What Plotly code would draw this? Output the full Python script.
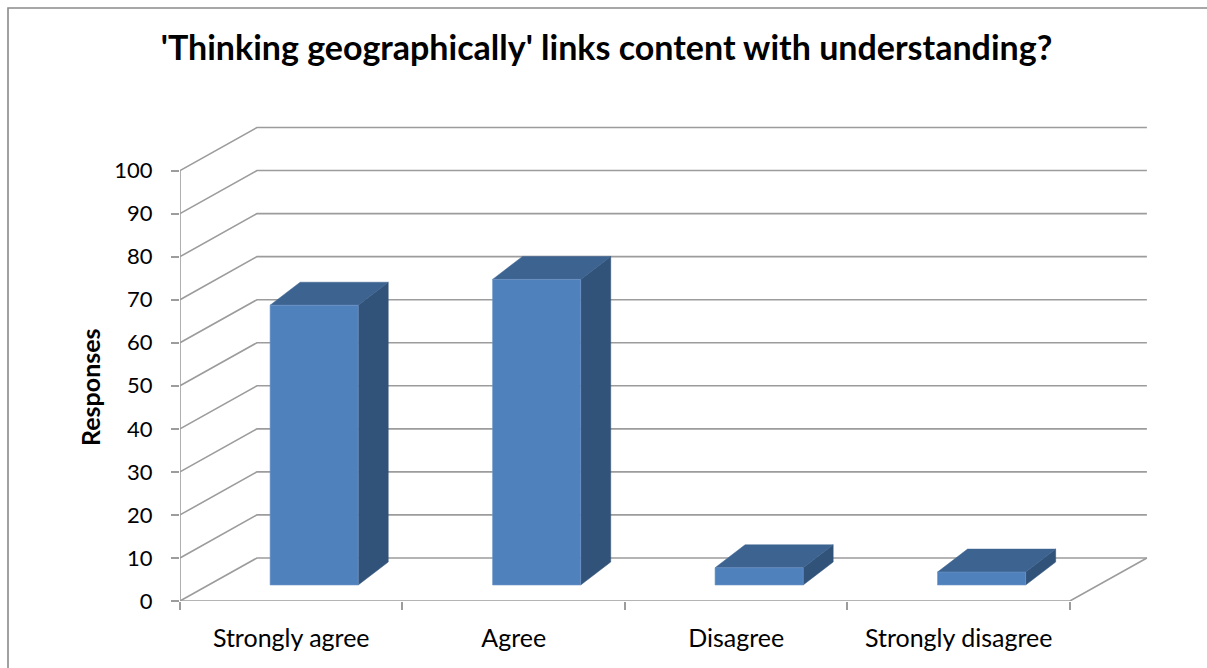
import plotly.graph_objects as go

# ---- data ----
categories = ["Strongly agree", "Agree", "Disagree", "Strongly disagree"]
responses = [65, 71, 4, 3]
y_ticks = [0, 10, 20, 30, 40, 50, 60, 70, 80, 90, 100]
title_text = "'Thinking geographically' links content with understanding?"
y_title = "Responses"

# ---- pseudo-3D geometry (in data units) ----
WALL_DX, WALL_DY = 0.346, 10.0      # depth offset of the back wall
BAR_DX, BAR_DY = 0.135, 5.34        # depth of each bar
BAR_BASE = 3.72                     # bar front-face base lift
BAR_OFF, BAR_HALF = 0.103, 0.198    # bar front face centre offset / half width
N = len(categories)
X_MAX = N + WALL_DX + 0.014
Y_MAX = 115

GRID_COL = "#9c9c9c"
FRONT = "#4f81bd"
SIDE = "#325379"
TOP = "#3d6390"

fig = go.Figure()

# back wall + side wall gridlines
gx, gy = [], []
for v in y_ticks:
    gx += [0, WALL_DX, N + WALL_DX, None]
    gy += [v, v + WALL_DY, v + WALL_DY, None]
# floor front edge, right edge, and front vertical axis
gx += [0, N, N + WALL_DX, None, 0, 0]
gy += [0, 0, WALL_DY, None, 0, y_ticks[-1]]
fig.add_trace(go.Scatter(x=gx, y=gy, mode="lines",
                         line=dict(color=GRID_COL, width=1.6),
                         hoverinfo="skip", showlegend=False))

# bars
for i, (cat, v) in enumerate(zip(categories, responses)):
    c = i + 0.5
    xl = c + BAR_OFF - BAR_HALF
    xr = c + BAR_OFF + BAR_HALF
    b = BAR_BASE
    t = BAR_BASE + v
    # side face
    fig.add_trace(go.Scatter(
        x=[xr, xr + BAR_DX, xr + BAR_DX, xr, xr],
        y=[b, b + BAR_DY, t + BAR_DY, t, b],
        fill="toself", fillcolor=SIDE, mode="lines",
        line=dict(color=SIDE, width=0.5), hoverinfo="skip", showlegend=False))
    # top face
    fig.add_trace(go.Scatter(
        x=[xl, xr, xr + BAR_DX, xl + BAR_DX, xl],
        y=[t, t, t + BAR_DY, t + BAR_DY, t],
        fill="toself", fillcolor=TOP, mode="lines",
        line=dict(color=TOP, width=0.5), hoverinfo="skip", showlegend=False))
    # front face
    fig.add_trace(go.Scatter(
        x=[xl, xr, xr, xl, xl],
        y=[b, b, t, t, b],
        fill="toself", fillcolor=FRONT, mode="lines",
        line=dict(color="#6f96c8", width=0.6), name=cat,
        hovertemplate=f"{cat}: {v}<extra></extra>", showlegend=False))

FONT = "Lato, 'Open Sans', sans-serif"

fig.update_layout(
    width=1207, height=668,
    margin=dict(l=180, r=57, t=106, b=67),
    paper_bgcolor="white", plot_bgcolor="white",
    font=dict(family=FONT, color="black"),
    title=dict(text=f"<b>{title_text}</b>", x=0.5025, xanchor="center",
               y=1 - 48 / 668, yanchor="middle",
               font=dict(family=FONT, size=34, color="black")),
    xaxis=dict(range=[0, X_MAX], showgrid=False, zeroline=False, showline=False,
               tickvals=[i + 0.5 for i in range(N)], ticktext=categories,
               ticks="", ticklabelstandoff=20,
               tickfont=dict(family=FONT, size=25, color="black"),
               minor=dict(tick0=0, dtick=1, ticks="outside", ticklen=8,
                          tickcolor=GRID_COL, tickwidth=1.6, showgrid=False),
               fixedrange=True),
    yaxis=dict(range=[0, Y_MAX], showgrid=False, zeroline=False, showline=False,
               tickvals=y_ticks, ticks="outside", ticklen=8, tickcolor=GRID_COL,
               tickwidth=1.6, ticklabelstandoff=14,
               tickfont=dict(family=FONT, size=22, color="black"),
               fixedrange=True),
    shapes=[dict(type="rect", xref="paper", yref="paper",
                 x0=(8 - 180) / 970, x1=(1220 - 180) / 970,
                 y0=(601 - 690) / 495, y1=(601 - 8) / 495,
                 line=dict(color="#8a8a8a", width=1.6), fillcolor="rgba(0,0,0,0)",
                 layer="below")],
    annotations=[dict(text=f"<b>{y_title}</b>", xref="paper", yref="paper",
                      x=(90 - 180) / 970, y=(601 - 387) / 495,
                      xanchor="center", yanchor="middle", textangle=-90,
                      showarrow=False,
                      font=dict(family=FONT, size=25, color="black"))],
)

fig.write_html("out.html", config={"displayModeBar": False})
